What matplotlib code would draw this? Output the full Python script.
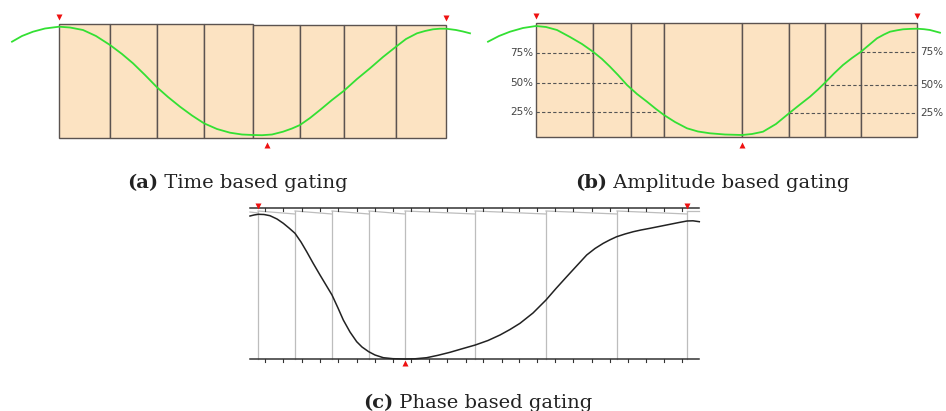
"""
Gating schemes figure: time, amplitude and phase based gating
"""

#%% Imports
import matplotlib
matplotlib.use('Agg')
import matplotlib.pyplot as plt
from matplotlib.patches import Rectangle

#%% Data (figure pixel coordinates)
# (a) time based gating
gates_a = [59, 110, 157, 204, 253, 300, 344, 396, 446]
tops_a = [24, 24, 24, 24, 25.5, 25.5, 25.5, 25.5]
bottom_a = 138
wave_a_x = [12, 22, 33, 45, 59, 70, 83, 96, 110, 122, 133, 145, 157, 168, 180, 192, 204,
            217, 230, 242, 253, 262, 272, 283, 292, 300, 310, 320, 332, 344, 357, 370,
            383, 396, 406, 417, 425, 433, 440, 446, 456, 463, 470]
wave_a_y = [41.7, 36, 31.7, 28.5, 26.7, 27.5, 30, 36, 45, 54, 63.3, 75, 87.3, 97, 106.7,
            115.5, 123.3, 129, 132.7, 134.5, 135, 135.2, 134.5, 131.7, 128.5, 125, 118,
            110, 100, 90.7, 79, 68.3, 57, 46.7, 39, 33.3, 31, 29.3, 28.7, 28.7, 30,
            31.5, 33.3]
peaks_a = [(59, 17), (446, 18)]
trough_a = (267, 145)

# (b) amplitude based gating
gates_b = [536, 593, 631, 664, 742, 789, 825, 861, 917]
top_b, bottom_b = 23, 137
wave_b_x = [488, 499, 510, 523, 536, 546, 557, 570, 582, 593, 602, 610, 618, 627, 637,
            647, 656, 664, 675, 687, 698, 710, 725, 742, 752, 763, 776, 789, 800, 810,
            818, 825, 834, 843, 852, 861, 869, 877, 884, 890, 897, 903, 910, 917, 924,
            930, 940]
wave_b_y = [41.7, 36, 31.7, 28, 26, 27, 30, 37, 44, 51.7, 59, 66.7, 75, 85, 94, 101.7,
            109, 115, 122, 128.3, 131.5, 133.3, 134.5, 135, 134, 131.7, 124, 113.3,
            104.5, 96.7, 89.5, 82.7, 73.5, 65, 58, 51.7, 45, 38.3, 34.5, 31.7, 30.3,
            29.3, 28.9, 28.7, 29.2, 30, 32.7]
levels = ['75%', '50%', '25%']
level_y_left = [53, 83, 112]
level_end_left = [593, 623, 657]
level_y_right = [52, 85, 113]
level_start_right = [861, 825, 789]
peaks_b = [(536, 16), (917, 16)]
trough_b = (742, 145)

# (c) phase based gating
axis_c = (250, 699)
top_c, bottom_c = 208, 359
ticks_c = [265, 283.3, 301.7, 320, 338.3, 356.7, 375, 393.3, 411, 429.3, 447.3, 465.7,
           483.3, 501.7, 519.3, 537.3, 555.3, 573.3, 591.7, 610, 628, 646, 664, 682.3]
gates_c = [258, 295, 332, 369, 405, 475, 546, 617, 687]
wave_c_x = [250, 254, 258.3, 264, 270, 277, 283.3, 289, 295, 301, 306.7, 313, 320, 326,
            332, 338, 343.3, 350, 356.7, 362, 368.7, 375, 383.3, 393, 404.7, 415, 426.7,
            438, 450, 462, 475.3, 488, 500, 510, 520, 533, 546, 556, 566.7, 577, 586.7,
            595, 603.3, 610, 616.7, 625, 633.3, 641, 650, 660, 670, 679, 687, 693, 699.3]
wave_c_y = [216, 215, 214.3, 214.5, 215.7, 219, 223.3, 228, 233.3, 242, 251.7, 263, 275,
            285, 295, 308, 320, 332, 341.7, 347, 351.7, 355, 357.7, 358.7, 359, 358.8,
            357.7, 355.3, 352.3, 348.8, 345, 340.5, 335, 329.5, 323.3, 313, 300, 288.5,
            276.7, 265.5, 255, 248.5, 243.3, 239.8, 236.7, 234, 231.7, 230, 228.3, 226.3,
            224.3, 222.5, 221, 220.8, 221.7]
peaks_c = [(258, 206), (687, 206)]
trough_c = (405, 363)

captions = [('(a)', 'Time based gating', 127, 188),
            ('(b)', 'Amplitude based gating', 575, 188),
            ('(c)', 'Phase based gating', 363, 408)]

#%% Styles
fill = '#fce3c2'
edge = '#5b5350'
green = '#33e033'
red = '#ee1111'
grey = '#bdbdbd'

#%% Figure
fig = plt.figure(figsize=(9.46, 4.11), dpi=100)
ax = fig.add_axes([0, 0, 1, 1])
ax.set_xlim(0, 946)
ax.set_ylim(411, 0)
ax.axis('off')

def markers(ax, peaks, trough):
    for x, y in peaks:
        ax.plot(x, y, marker='v', color=red, ms=5, mec='none')
    ax.plot(trough[0], trough[1], marker='^', color=red, ms=5, mec='none')

# (a)
for i in range(len(gates_a) - 1):
    ax.add_patch(Rectangle((gates_a[i], tops_a[i]), gates_a[i + 1] - gates_a[i],
                           bottom_a - tops_a[i], facecolor=fill, edgecolor=edge, lw=1))
ax.plot(wave_a_x, wave_a_y, color=green, lw=1.3, zorder=3)
markers(ax, peaks_a, trough_a)

# (b)
for i in range(len(gates_b) - 1):
    ax.add_patch(Rectangle((gates_b[i], top_b), gates_b[i + 1] - gates_b[i],
                           bottom_b - top_b, facecolor=fill, edgecolor=edge, lw=1))
for lab, yl, xe, yr, xs in zip(levels, level_y_left, level_end_left,
                               level_y_right, level_start_right):
    ax.plot([gates_b[0], xe], [yl, yl], ls='--', color='#555555', lw=0.8, dashes=(3, 2))
    ax.plot([xs, gates_b[-1]], [yr, yr], ls='--', color='#555555', lw=0.8, dashes=(3, 2))
    ax.text(gates_b[0] - 3, yl, lab, ha='right', va='center', fontsize=7.5, color='#444444')
    ax.text(gates_b[-1] + 3, yr, lab, ha='left', va='center', fontsize=7.5, color='#444444')
ax.plot(wave_b_x, wave_b_y, color=green, lw=1.3, zorder=3)
markers(ax, peaks_b, trough_b)

# (c)
for x in gates_c:
    ax.plot([x, x], [210.5, bottom_c], color=grey, lw=0.9)
for i in range(len(gates_c) - 1):
    ax.plot([gates_c[i], gates_c[i + 1]], [211, 214], color=grey, lw=0.9)
ax.plot([axis_c[0], gates_c[0]], [212, 213], color=grey, lw=0.9)
ax.plot([gates_c[-1], axis_c[1]], [211, 211], color=grey, lw=0.9)
ax.plot(axis_c, [top_c, top_c], color='#333333', lw=1.1)
ax.plot(axis_c, [bottom_c, bottom_c], color='#333333', lw=1.1)
for x in ticks_c:
    ax.plot([x, x], [top_c, top_c + 2.5], color='#333333', lw=0.8)
    ax.plot([x, x], [bottom_c, bottom_c + 2.5], color='#333333', lw=0.8)
ax.plot(wave_c_x, wave_c_y, color='#222222', lw=1.1, zorder=3)
markers(ax, peaks_c, trough_c)

# captions: bold tag, then plain text right after it
for tag, txt, x, y in captions:
    t = ax.text(x, y, tag, ha='left', va='baseline', fontsize=14,
                family='DejaVu Serif', weight='bold', color='#222222')
    ax.annotate(' ' + txt, xy=(1, 0), xycoords=t, va='bottom', ha='left',
                fontsize=14, family='DejaVu Serif', color='#222222')

fig.savefig('out.png', dpi=100)
